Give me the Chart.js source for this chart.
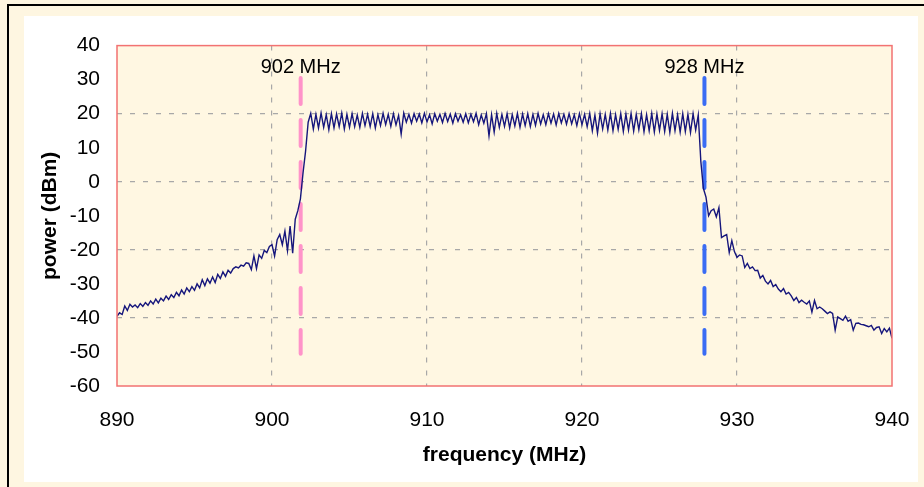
<!DOCTYPE html>
<html>
<head>
<meta charset="utf-8">
<script src="https://cdn.jsdelivr.net/npm/chart.js@4.4.1/dist/chart.umd.min.js"></script>
<style>
  html, body { margin: 0; padding: 0; }
  body { width: 924px; height: 487px; background: #fef6e1; position: relative; overflow: hidden; }
  #frame { position: absolute; left: 7px; top: 4px; right: 0; bottom: 0; border-left: 2px solid #000; border-top: 2px solid #000; }
  #panel { position: absolute; left: 24px; top: 16px; width: 894px; height: 466px; background: #fff; }
</style>
</head>
<body>
<div id="frame"></div>
<div id="panel"><canvas id="spectrum"></canvas></div>
<script>
// sweep: 890 -> 940 MHz, 301 points
const FREQ_START = 890;
const FREQ_STEP = 1 / 6;

// dBm, 890.000 .. 901.833
const lowerSkirt = [
  -39.5, -38.5, -39.0, -36.5, -37.8, -36.0, -36.8, -36.2, -37.0, -35.8,
  -36.6, -35.5, -36.3, -35.0, -35.9, -34.5, -35.6, -34.2, -35.0, -33.6,
  -34.6, -33.2, -34.0, -32.5, -33.5, -31.8, -33.0, -31.2, -32.3, -30.8,
  -31.9, -30.0, -31.2, -28.8, -30.5, -28.5, -29.8, -28.0, -29.6, -27.2,
  -28.4, -26.5, -27.8, -26.0, -26.8, -25.5, -25.0, -25.3, -24.5, -24.8,
  -23.8, -24.0, -25.8, -21.8, -25.5, -21.5, -22.5, -20.2, -20.8, -19.0,
  -18.5, -21.8, -17.0, -15.5, -18.5, -14.5, -20.2, -13.0, -21.0, -11.0,
  -8.5, -5.0
];

// dBm, 902.000 .. 927.833 (hopping band, ripple peak/trough)
const passband = [
  2.5, 9.0, 17.5,
  20.1, 15.5, 19.8, 15.8, 20.2, 16.0, 19.7, 15.3, 20.0, 15.8,
  19.9, 16.2, 20.2, 15.5, 19.8, 16.0, 20.0, 16.2, 19.6, 16.0,
  20.1, 16.5, 19.8, 16.2, 20.0, 15.8, 19.7, 16.5, 20.1, 16.8,
  19.8, 16.3, 20.0, 16.7, 19.5, 14.0, 20.2, 17.5, 19.8, 17.2,
  20.0, 17.8, 19.9, 17.3, 20.1, 17.6, 19.7, 17.0, 20.0, 17.8,
  19.8, 17.4, 20.1, 17.7, 19.9, 17.2, 20.0, 17.8, 19.7, 17.5,
  20.0, 17.3, 19.8, 17.6, 20.1, 16.8, 19.6, 17.2, 20.0, 13.5,
  19.7, 14.6, 20.1, 16.0, 19.8, 16.3, 20.0, 15.8, 19.7, 16.4,
  20.1, 16.0, 19.9, 16.5, 20.0, 16.2, 19.8, 16.6, 20.1, 17.0,
  19.7, 16.8, 20.0, 17.2, 19.9, 16.7, 20.1, 17.3, 19.8, 16.9,
  20.0, 17.0, 19.7, 16.5, 20.0, 16.8, 19.8, 16.2, 20.1, 15.0,
  19.6, 14.3, 20.0, 15.5, 19.8, 15.2, 20.1, 15.0, 19.7, 15.4,
  20.0, 14.8, 19.9, 15.2, 20.1, 14.9, 19.8, 15.3, 20.0, 14.7,
  19.7, 15.0, 20.1, 14.6, 19.9, 15.1, 20.0, 14.8, 19.8, 14.5,
  20.1, 15.0, 19.7, 14.6, 20.0, 14.8, 19.8, 14.5, 20.0, 15.2,
  19.6, 6.0, -2.0
];

// dBm, 928.000 .. 940.000
const upperSkirt = [
  -4.5, -10.0, -8.5, -8.0, -10.3, -7.6, -16.4, -15.9, -15.5, -20.8,
  -17.3, -20.5, -22.2, -21.5, -21.8, -25.2, -24.0, -25.5, -25.0, -26.1,
  -26.0, -28.3, -27.5, -29.2, -30.0, -29.0, -30.8, -30.2, -31.5, -32.3,
  -31.4, -33.0, -32.5, -33.5, -34.9, -34.0, -35.5, -34.8, -35.4, -35.9,
  -35.0, -38.3, -34.9, -37.3, -36.8, -37.3, -38.0, -38.7, -38.2, -38.7,
  -43.6, -39.7, -40.2, -40.7, -39.5, -41.0, -40.5, -43.6, -41.6, -41.5,
  -41.9, -42.0, -42.3, -42.6, -42.2, -43.6, -42.8, -42.6, -44.6, -43.1,
  -44.1, -43.0, -46.0
];

// band edge markers
const markerFreqs = [901.85, 927.9];
const markerLabels = ['902 MHz', '928 MHz'];
const markerColors = ['#ff93c9', '#3a6cf4'];
const markerTop = 30.5;
const markerBottom = -50.5;
const markerLabelLevel = 33.7;

const FONT = "'Liberation Sans', Arial, sans-serif";

const power = [...lowerSkirt, ...passband, ...upperSkirt];
const spectrum = power.map((v, i) => ({ x: FREQ_START + i * FREQ_STEP, y: v }));

const markerSets = markerFreqs.map((f, i) => ({
  label: markerLabels[i],
  data: [{ x: f, y: markerTop }, { x: f, y: markerBottom }],
  borderColor: markerColors[i],
  borderWidth: 4,
  borderDash: [26, 16],
  borderCapStyle: 'round',
  pointRadius: 0,
  order: 2
}));

const plotFrame = {
  id: 'plotFrame',
  beforeDraw(chart) {
    const { ctx, chartArea: a } = chart;
    ctx.save();
    ctx.fillStyle = '#fff7e2';
    ctx.fillRect(a.left, a.top, a.right - a.left, a.bottom - a.top);
    ctx.restore();
  },
  afterDraw(chart) {
    const { ctx, chartArea: a, scales } = chart;
    ctx.save();
    ctx.strokeStyle = '#f27272';
    ctx.lineWidth = 1.5;
    ctx.strokeRect(a.left, a.top, a.right - a.left, a.bottom - a.top);
    ctx.fillStyle = '#000';
    ctx.font = '20px ' + FONT;
    ctx.textAlign = 'center';
    ctx.textBaseline = 'middle';
    markerFreqs.forEach((f, i) => {
      ctx.fillText(markerLabels[i], scales.x.getPixelForValue(f), scales.y.getPixelForValue(markerLabelLevel));
    });
    ctx.restore();
  }
};

new Chart(document.getElementById('spectrum'), {
  type: 'line',
  data: {
    datasets: [{
      label: 'power',
      data: spectrum,
      borderColor: '#16167c',
      borderWidth: 1.4,
      pointRadius: 0,
      tension: 0,
      order: 1
    }, ...markerSets]
  },
  options: {
    responsive: true,
    maintainAspectRatio: false,
    animation: false,
    layout: { padding: { left: 0, top: 27, right: 26, bottom: 0 } },
    plugins: { legend: { display: false }, tooltip: { enabled: false } },
    scales: {
      x: {
        type: 'linear', min: 890, max: 940,
        afterFit: s => { s.height = 96; s.paddingLeft = 0; s.paddingRight = 0; },
        ticks: { stepSize: 10, padding: 22, color: '#000', font: { family: FONT, size: 21 } },
        grid: {
          drawTicks: false, lineWidth: 1.2,
          color: c => (c.tick.value > 890 && c.tick.value < 940) ? '#a8a8a8' : 'transparent'
        },
        border: { display: false, dash: [5, 8] },
        title: {
          display: true, text: 'frequency (MHz)', color: '#000',
          font: { family: FONT, size: 21, weight: 'bold' },
          padding: { top: 0, bottom: 14 }
        }
      },
      y: {
        min: -60, max: 40,
        afterFit: s => { s.width = 93; },
        ticks: { stepSize: 10, padding: 17, color: '#000', font: { family: FONT, size: 21 } },
        grid: {
          drawTicks: false, lineWidth: 1.2,
          color: c => (c.tick.value % 20 === 0 && c.tick.value > -60 && c.tick.value < 40) ? '#a8a8a8' : 'transparent'
        },
        border: { display: false, dash: [5, 8] },
        title: {
          display: true, text: 'power (dBm)', color: '#000',
          font: { family: FONT, size: 21, weight: 'bold' },
          padding: { top: 14, bottom: 0 }
        }
      }
    }
  },
  plugins: [plotFrame]
});
</script>
</body>
</html>
